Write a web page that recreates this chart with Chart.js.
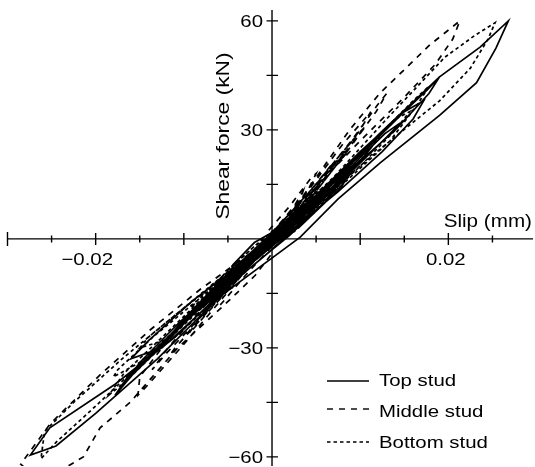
<!DOCTYPE html>
<html lang="en">
<head>
  <meta charset="utf-8">
  <title>Shear force - slip</title>
  <script src="https://cdn.jsdelivr.net/npm/chart.js@4.4.0/dist/chart.umd.min.js"></script>
  <style>
    body { margin: 0; background: #fff; }
    #wrap { width: 535px; height: 467px; }
  </style>
</head>
<body>
<div id="wrap"><canvas id="myChart" width="535" height="467"></canvas></div>
<script>
// slip (mm) / shear force (kN), one row per load cycle
var topX = [
  0, 0.0020, 0.0036, 0.0030, 0.0012, -0.0008, -0.0030, -0.0036, -0.0026, -0.0008,
  0.0010, 0.0040, 0.0052, 0.0046, 0.0020, -0.0005, -0.0035, -0.0050, -0.0044, -0.0020, 0.0002,
  0.0030, 0.0060, 0.0075, 0.0070, 0.0045, 0.0020, -0.0010, -0.0040, -0.0065, -0.0070, -0.0050, -0.0020, 0.0005,
  0.0030, 0.0058, 0.0066, 0.0054, 0.0030, 0.0004, -0.0028, -0.0056, -0.0064, -0.0050, -0.0024, 0.0002,
  0.0020, 0.0055, 0.0085, 0.0090, 0.0078, 0.0050, 0.0022, -0.0010, -0.0045, -0.0080, -0.0088, -0.0070, -0.0040, -0.0008,
  0.0034, 0.0068, 0.0092, 0.0098, 0.0086, 0.0058, 0.0020, -0.0022, -0.0062, -0.0088, -0.0094, -0.0080, -0.0048, -0.0010,
  0.0030, 0.0070, 0.0104, 0.0112, 0.0096, 0.0060, 0.0018, -0.0030, -0.0072, -0.0104, -0.0110, -0.0092, -0.0056, -0.0012,
  0.0040, 0.0090, 0.0128, 0.0146, 0.0130, 0.0092, 0.0038, -0.0030, -0.0090, -0.0140, -0.0160, -0.0125, -0.0075, -0.0020,
  0.0050, 0.0100, 0.0150, 0.0172, 0.0160, 0.0125, 0.0075, 0.0030, -0.0030, -0.0090, -0.0140, -0.0165, -0.0150, -0.0105, -0.0050, -0.0005,
  0.0046, 0.0100, 0.0150, 0.0176, 0.0190, 0.0178, 0.0140, 0.0084, 0.0024, -0.0040, -0.0100, -0.0150, -0.0178, -0.0164, -0.0118, -0.0060, -0.0004,
  0.0060, 0.0122, 0.0190, 0.0236, 0.0268, 0.0254, 0.0232, 0.0190, 0.0123, 0.0075, 0.0032, -0.0060, -0.0130, -0.0200, -0.0245, -0.0274, -0.0252, -0.0178, -0.0110, -0.0050, 0
];
var topY = [
  0, 4, 8, 6, 2, -2, -7, -8, -5, -1,
  4, 9, 11, 7, 1, -4, -10, -12, -7, -1, 2,
  3, 10, 15, 16, 11, 5, -2, -8, -14, -16, -12, -6, -1,
  6, 12, 14, 11, 5, -1, -7, -13, -14, -10, -4, 1,
  6, 13, 18, 19, 14, 8, 2, -5, -12, -19, -20, -15, -8, -2,
  7, 15, 20, 21, 17, 11, 3, -6, -14, -20, -21, -17, -9, -1,
  6, 16, 24, 25, 20, 12, 2, -8, -17, -24, -25, -20, -11, -1,
  9, 20, 29, 32, 28, 19, 6, -6, -17, -28, -33, -30, -19, -6,
  12, 24, 35, 38, 33, 24, 13, 4, -8, -21, -33, -39, -34, -23, -11, -1,
  11, 23, 35, 41, 44.6, 40, 30, 18, 4, -9, -23, -35, -43, -38, -27, -13, 0,
  14, 29, 44.6, 52.8, 60, 52.5, 43, 34, 21, 11, 0.5, -16, -33, -48, -57, -59.5, -52, -40, -27, -13, -1
];

var midX = [
  0, 0.0018, 0.0032, 0.0026, 0.0008, -0.0012, -0.0030, -0.0034, -0.0022, -0.0004,
  0.0005, 0.0025, 0.0035, 0.0030, 0.0012, -0.0015, -0.0038, -0.0046, -0.0040, -0.0018, 0,
  -0.0005, 0.0020, 0.0045, 0.0050, 0.0040, 0.0010, -0.0020, -0.0050, -0.0062, -0.0058, -0.0030, 0,
  0.0028, 0.0050, 0.0056, 0.0044, 0.0018, -0.0010, -0.0036, -0.0054, -0.0058, -0.0044, -0.0018, 0.0004,
  0.0022, 0.0046, 0.0066, 0.0070, 0.0058, 0.0030, 0.0004, -0.0028, -0.0056, -0.0074, -0.0078, -0.0062, -0.0034, -0.0006,
  0.0032, 0.0062, 0.0080, 0.0086, 0.0072, 0.0040, 0.0002, -0.0038, -0.0072, -0.0090, -0.0094, -0.0078, -0.0044, -0.0006,
  0.0036, 0.0070, 0.0098, 0.0106, 0.0090, 0.0054, 0.0010, -0.0040, -0.0084, -0.0110, -0.0116, -0.0096, -0.0056, -0.0010,
  0.0040, 0.0080, 0.0105, 0.0112, 0.0100, 0.0066, 0.0025, -0.0025, -0.0075, -0.0118, -0.0136, -0.0118, -0.0075, -0.0025,
  0.0050, 0.0090, 0.0120, 0.0130, 0.0118, 0.0085, 0.0040, -0.0010, -0.0055, -0.0100, -0.0140, -0.0152, -0.0150, -0.0125, -0.0085, -0.0040, 0.0010,
  0.0030, 0.0088, 0.0122, 0.0179, 0.0213, 0.0205, 0.0185, 0.0150, 0.0100, 0.0045, -0.0019, -0.0082, -0.0138, -0.0195, -0.0252, -0.0285, -0.0262, -0.0214, -0.0195, -0.0161, -0.0107, -0.0048, -0.0019, 0
];
var midY = [
  0, 5, 10, 7, 2, -3, -9, -10, -6, -1,
  3, 9, 13, 9, 3, -2, -9, -14, -10, -4, 0,
  2, 9, 17, 18, 13, 4, -4, -12, -17, -18, -10, -2,
  8, 14, 16, 12, 4, -3, -10, -15, -16, -12, -4, 1,
  7, 14, 20, 21, 16, 8, 1, -8, -15, -20, -21, -16, -8, -1,
  9, 18, 23, 24, 20, 10, 0, -11, -20, -25, -26, -20, -10, 0,
  11, 21, 29, 31, 26, 15, 2, -11, -23, -30, -32, -26, -14, -1,
  13, 26, 33, 35, 30, 19, 7, -7, -20, -31, -36, -30, -18, -5,
  15, 27, 37, 40, 35, 24, 10, -3, -16, -29, -40, -43, -38, -30, -19, -8, 4,
  10, 30, 40, 53.4, 60, 55, 48, 39, 27, 13, -3, -14, -25, -37.4, -51, -62, -67, -60, -52, -45, -30, -16.8, -10, -4
];

var botX = [
  0, 0.0022, 0.0040, 0.0034, 0.0014, -0.0006, -0.0032, -0.0040, -0.0030, -0.0010,
  0.0012, 0.0036, 0.0050, 0.0042, 0.0018, -0.0010, -0.0040, -0.0056, -0.0046, -0.0020, 0,
  0.0025, 0.0055, 0.0074, 0.0070, 0.0045, 0.0015, -0.0015, -0.0048, -0.0070, -0.0074, -0.0050, -0.0015,
  0.0030, 0.0058, 0.0066, 0.0052, 0.0025, 0, -0.0030, -0.0060, -0.0068, -0.0052, -0.0022, 0,
  0.0026, 0.0058, 0.0084, 0.0090, 0.0076, 0.0046, 0.0010, -0.0026, -0.0060, -0.0086, -0.0092, -0.0074, -0.0040, -0.0006,
  0.0032, 0.0068, 0.0096, 0.0102, 0.0088, 0.0056, 0.0014, -0.0030, -0.0070, -0.0098, -0.0104, -0.0086, -0.0050, -0.0010,
  0.0035, 0.0075, 0.0112, 0.0122, 0.0105, 0.0065, 0.0018, -0.0045, -0.0100, -0.0140, -0.0150, -0.0110, -0.0060, -0.0010,
  0.0045, 0.0095, 0.0140, 0.0156, 0.0140, 0.0100, 0.0050, -0.0005, -0.0070, -0.0135, -0.0175, -0.0180, -0.0150, -0.0095, -0.0035,
  0.0065, 0.0115, 0.0160, 0.0178, 0.0165, 0.0134, 0.0080, 0.0020, -0.0045, -0.0110, -0.0165, -0.0185, -0.0168, -0.0120, -0.0060, 0,
  0.0070, 0.0130, 0.0196, 0.0230, 0.0253, 0.0245, 0.0225, 0.0190, 0.0134, 0.0070, 0.0010, -0.0060, -0.0130, -0.0200, -0.0245, -0.0262, -0.0258, -0.0225, -0.0170, -0.0110, -0.0050, 0
];
var botY = [
  0, 4, 9, 7, 2, -2, -7, -9, -6, -1,
  2, 8, 12, 8, 2, -3, -9, -13, -8, -2, 1,
  2, 9, 14, 16, 12, 5, -1, -8, -14, -17, -13, -5,
  6, 13, 15, 11, 4, -1, -7, -14, -15, -11, -4, 0,
  5, 12, 17, 18, 14, 8, 1, -6, -13, -18, -19, -14, -7, -1,
  7, 15, 21, 22, 18, 11, 1, -8, -16, -22, -23, -18, -10, -1,
  8, 17, 26, 28, 23, 13, 2, -9, -19, -27, -30, -27, -16, -3,
  10, 22, 33, 35, 30, 20, 9, -2, -14, -27, -36, -38, -34, -22, -8,
  15, 27, 38, 42, 37, 27, 15, 2, -11, -26, -39, -43, -37, -26, -12, 1,
  17, 33, 50, 56, 59.5, 55, 47, 38, 27, 14, 1, -14, -30, -46, -56, -60.5, -53, -45, -33, -21, -9, 0
];

var seriesNames = ['Top stud', 'Middle stud', 'Bottom stud'];
var seriesDash = [[], [6, 6], [3.5, 3]];

var xTicks = [-0.03, -0.025, -0.02, -0.015, -0.01, -0.005, 0.005, 0.01, 0.015, 0.02, 0.025];
var xLabels = [-0.02, 0.02];
var yTicks = [-60, -45, -30, -15, 15, 30, 45, 60];
var yLabels = [-60, -30, 30, 60];

var FONT = '"Liberation Sans", Arial, sans-serif';
var stretch = 1.2; // the scanned lettering is wider than Arial

function toPoints(xs, ys) {
  return xs.map(function(x, i) { return { x: x, y: ys[i] }; });
}

// draw text stretched along its own direction
function wideText(ctx, txt, x, y, align, sx) {
  ctx.save();
  ctx.translate(x, y);
  ctx.scale(sx, 1);
  ctx.textAlign = align;
  ctx.fillText(txt, 0, 0);
  ctx.restore();
}

var axesPlugin = {
  id: 'crossAxes',
  afterDatasetsDraw: function(chart) {
    var ctx = chart.ctx;
    var xs = chart.scales.x, ys = chart.scales.y, area = chart.chartArea;
    var x0 = xs.getPixelForValue(0), y0 = ys.getPixelForValue(0);

    ctx.save();
    ctx.strokeStyle = '#000';
    ctx.lineWidth = 1.4;
    ctx.setLineDash([]);
    ctx.beginPath();
    ctx.moveTo(area.left, y0); ctx.lineTo(area.right, y0);
    ctx.moveTo(x0, area.top); ctx.lineTo(x0, area.bottom);
    xTicks.forEach(function(v) {
      var px = xs.getPixelForValue(v);
      var major = Math.abs(Math.round(v * 100) - v * 100) < 1e-6;
      var h = v <= -0.03 ? 7 : (major ? 6 : 3.5);
      ctx.moveTo(px, y0 - h); ctx.lineTo(px, y0 + h);
    });
    yTicks.forEach(function(v) {
      var py = ys.getPixelForValue(v);
      ctx.moveTo(x0 - 5.5, py); ctx.lineTo(x0 + 6, py);
    });
    ctx.stroke();

    ctx.fillStyle = '#000';
    ctx.font = '17px ' + FONT;
    ctx.textBaseline = 'alphabetic';

    // x tick labels, minus sign hangs to the left of the digits
    xLabels.forEach(function(v) {
      var px = xs.getPixelForValue(v) - 2.5;
      var digits = Math.abs(v).toFixed(2);
      wideText(ctx, digits, px, 265, 'center', stretch);
      if (v < 0) {
        var w = ctx.measureText(digits).width * stretch;
        wideText(ctx, '\u2212', px - w / 2, 265, 'right', stretch);
      }
    });

    // y tick labels
    yLabels.forEach(function(v) {
      var py = ys.getPixelForValue(v);
      var txt = (v < 0 ? '\u2212' : '') + Math.abs(v);
      wideText(ctx, txt, 263, py + 6, 'right', stretch);
    });

    // axis titles
    ctx.font = '17.5px ' + FONT;
    wideText(ctx, 'Slip (mm)', 532, 227, 'right', 1.18);

    ctx.save();
    ctx.translate(229, 136);
    ctx.rotate(-Math.PI / 2);
    ctx.font = '19px ' + FONT;
    wideText(ctx, 'Shear force (kN)', 0, 0, 'center', 1.2);
    ctx.restore();

    // legend
    var legY = [381, 409, 442];
    var legBase = [386, 417, 448];
    ctx.font = '17px ' + FONT;
    seriesNames.forEach(function(name, i) {
      ctx.beginPath();
      ctx.setLineDash(seriesDash[i]);
      ctx.moveTo(327, legY[i]); ctx.lineTo(369, legY[i]);
      ctx.stroke();
      ctx.setLineDash([]);
      wideText(ctx, name, 379, legBase[i], 'left', stretch);
    });
    ctx.restore();
  }
};

var ctx = document.getElementById('myChart').getContext('2d');
var chart = new Chart(ctx, {
  type: 'scatter',
  data: {
    datasets: [
      { label: seriesNames[0], data: toPoints(topX, topY), borderDash: seriesDash[0] },
      { label: seriesNames[1], data: toPoints(midX, midY), borderDash: seriesDash[1] },
      { label: seriesNames[2], data: toPoints(botX, botY), borderDash: seriesDash[2] }
    ].map(function(ds) {
      ds.showLine = true;
      ds.borderColor = '#000';
      ds.backgroundColor = '#000';
      ds.borderWidth = 1.7;
      ds.pointRadius = 0;
      ds.fill = false;
      return ds;
    })
  },
  options: {
    responsive: false,
    animation: false,
    devicePixelRatio: 1,
    layout: { padding: { left: 7.5, right: 2, top: 10, bottom: 1 } },
    elements: { line: { tension: 0 } },
    plugins: { legend: { display: false }, tooltip: { enabled: false } },
    scales: {
      x: { type: 'linear', min: -0.03, max: 0.0296, display: false },
      y: { type: 'linear', min: -62.5, max: 63, display: false }
    }
  },
  plugins: [axesPlugin]
});
</script>
</body>
</html>
